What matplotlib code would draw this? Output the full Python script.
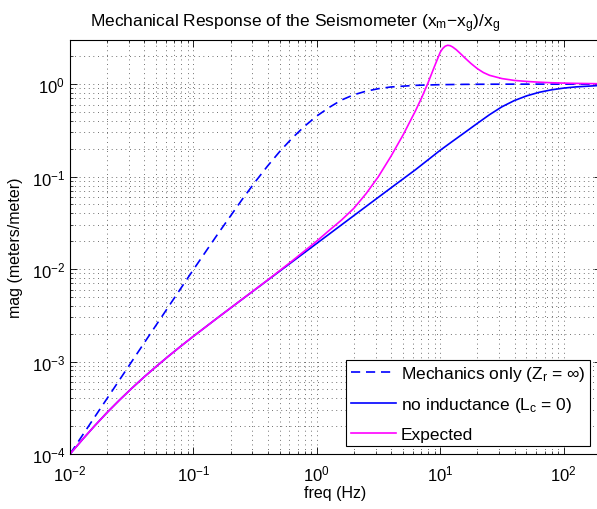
import numpy as np
import matplotlib
matplotlib.use('Agg')
import matplotlib.pyplot as plt

# values, stored as log10(freq) / log10(mag)
logf_mech = [-2.0, -1.8, -1.6, -1.4, -1.2, -1.0, -0.8, -0.6, -0.5, -0.4, -0.3, -0.2, -0.1,
             0.0, 0.1, 0.2, 0.3, 0.4, 0.5, 0.6, 0.8, 1.0, 1.2, 1.4, 1.6, 1.8, 2.0, 2.3]
logmag_mech = [-4.0, -3.600, -3.201, -2.801, -2.403, -2.006, -1.616, -1.238, -1.058, -0.887,
               -0.728, -0.584, -0.456, -0.345, -0.252, -0.172, -0.115, -0.076, -0.049, -0.031,
               -0.013, -0.006, -0.0025, -0.001, -0.0004, -0.0002, -0.0001, 0.0]

logf_noind = [-2.0, -1.9, -1.8, -1.7, -1.6, -1.5, -1.4, -1.3, -1.2, -1.1, -1.0, -0.8, -0.6,
              -0.4, -0.2, 0.0, 0.2, 0.4, 0.6, 0.8, 1.0, 1.1, 1.2, 1.3, 1.4, 1.5, 1.6, 1.7,
              1.8, 1.9, 2.0, 2.1, 2.3]
logmag_noind = [-4.0, -3.845, -3.695, -3.552, -3.418, -3.290, -3.168, -3.052, -2.940, -2.832,
                -2.727, -2.523, -2.322, -2.122, -1.922, -1.722, -1.522, -1.322, -1.123, -0.925,
                -0.715, -0.618, -0.522, -0.425, -0.330, -0.245, -0.178, -0.127, -0.089, -0.062,
                -0.043, -0.030, -0.014]

logf_exp = [-2.0, -1.9, -1.8, -1.7, -1.6, -1.5, -1.4, -1.3, -1.2, -1.1, -1.0, -0.8, -0.6,
            -0.4, -0.2, 0.0, 0.1, 0.2, 0.3, 0.4, 0.5, 0.6, 0.7, 0.8, 0.85, 0.9, 0.95, 1.0,
            1.02, 1.04, 1.06, 1.08, 1.1, 1.13, 1.16, 1.2, 1.25, 1.3, 1.35, 1.4, 1.5, 1.6,
            1.7, 1.8, 1.9, 2.0, 2.1, 2.3]
logmag_exp = [-4.0, -3.845, -3.695, -3.552, -3.418, -3.290, -3.168, -3.052, -2.940, -2.832,
              -2.727, -2.523, -2.321, -2.120, -1.912, -1.697, -1.582, -1.470, -1.343, -1.183,
              -0.998, -0.782, -0.547, -0.287, -0.145, 0.010, 0.180, 0.345, 0.385, 0.410,
              0.420, 0.416, 0.402, 0.372, 0.335, 0.283, 0.222, 0.168, 0.125, 0.095, 0.060,
              0.040, 0.029, 0.021, 0.015, 0.011, 0.008, 0.004]

labels = ['Mechanics only (Z$_r$ = \u221e)', 'no inductance (L$_c$ = 0)', 'Expected']

plt.rcParams['font.family'] = ['Liberation Sans', 'DejaVu Sans']
plt.rcParams['mathtext.fontset'] = 'custom'
plt.rcParams['mathtext.rm'] = 'Liberation Sans'
plt.rcParams['mathtext.it'] = 'Liberation Sans'
plt.rcParams['axes.unicode_minus'] = True

fig = plt.figure(figsize=(5.97, 5.10), dpi=100)
ax = fig.add_axes([70 / 597, 55 / 510, 530.8 / 597, 414 / 510])

ax.loglog(10 ** np.array(logf_mech), 10 ** np.array(logmag_mech), color='b', lw=1.2,
          dashes=(5.5, 3.5), label=labels[0])
ax.loglog(10 ** np.array(logf_noind), 10 ** np.array(logmag_noind), color='b', lw=1.2,
          label=labels[1])
ax.loglog(10 ** np.array(logf_exp), 10 ** np.array(logmag_exp), color='#ff00ff', lw=1.2,
          label=labels[2])

ax.set_xlim(1e-2, 200)
ax.set_ylim(1e-4, 3)

ax.grid(True, which='both', color='0.25', lw=0.6, linestyle=(0, (1, 4.5)))
ax.tick_params(which='both', direction='in', top=True, right=True, labelsize=12)
ax.tick_params(axis='x', which='major', pad=7)
ax.tick_params(which='major', length=5, width=0.6)
ax.tick_params(which='minor', length=2.5, width=0.5)
for s in ax.spines.values():
    s.set_linewidth(0.8)

ax.set_xlabel('freq (Hz)', fontsize=11.5, labelpad=1)
ax.set_ylabel('mag (meters/meter)', fontsize=11.5, labelpad=6)
ax.set_title('Mechanical Response of the Seismometer (x$_m$\u2212x$_g$)/x$_g$',
             fontsize=12.5, pad=10, x=(295 - 70) / 530.8)

leg = ax.legend(loc='lower right', fontsize=12.5, fancybox=False, framealpha=1,
                edgecolor='k', handlelength=2.6, labelspacing=0.7,
                borderaxespad=0, handletextpad=0.3, borderpad=0.25,
                bbox_to_anchor=((590 - 70) / 530.8, 8 / 414))
leg.get_frame().set_linewidth(0.8)

fig.savefig('out.png', dpi=100)
